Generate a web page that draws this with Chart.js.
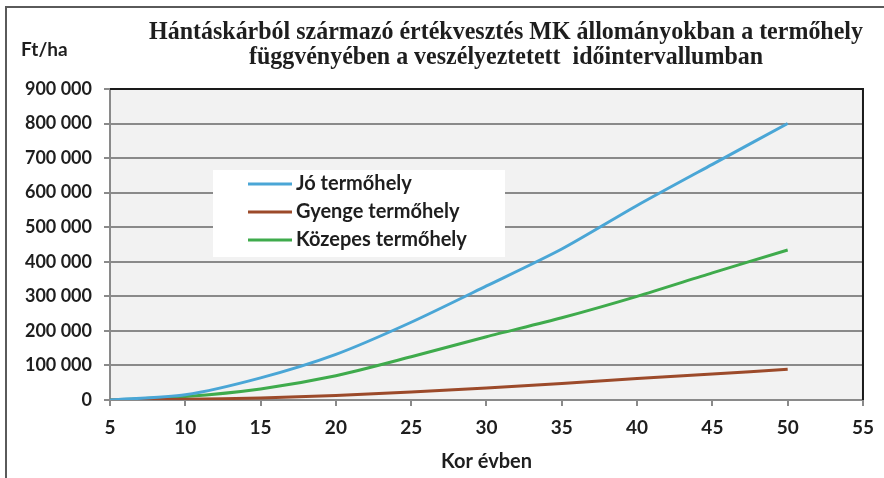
<!DOCTYPE html>
<html>
<head>
<meta charset="utf-8">
<script src="https://cdn.jsdelivr.net/npm/chart.js@4.4.1/dist/chart.umd.min.js"></script>
<style>
  html, body { margin: 0; padding: 0; background: #fff; }
  #wrap { width: 884px; height: 478px; }
</style>
</head>
<body>
<div id="wrap"><canvas id="chart" width="884" height="478"></canvas></div>
<script>
// values (Ft/ha by age)
const ages = [5, 10, 15, 20, 25, 30, 35, 40, 45, 50];
const joValues = [0, 15000, 64000, 132000, 225000, 330000, 437000, 563000, 682000, 800000];
const gyengeValues = [0, 2000, 6000, 13000, 23000, 35000, 48000, 62000, 75000, 89000];
const kozepesValues = [0, 10000, 32000, 70000, 125000, 183000, 238000, 300000, 368000, 434000];
const seriesNames = ["Jó termőhely", "Gyenge termőhely", "Közepes termőhely"];
const titleLines = [
    "Hántáskárból származó értékvesztés MK állományokban a termőhely",
    "függvényében a veszélyeztetett  időintervallumban"
];
const yUnit = "Ft/ha";
const xTitle = "Kor évben";

const labelFont = "Lato, 'Open Sans', sans-serif";
const colors = ["#4aa6d6", "#9c4a2a", "#3fab4c"];

function toPoints(values) {
    return ages.map((a, i) => ({ x: a, y: values[i] }));
}

function spaced(v) {
    return String(v).replace(/\B(?=(\d{3})+(?!\d))/g, " ");
}

// frame, plot background, border, title, legend
const decorations = {
    id: "decorations",
    beforeDraw(chart) {
        const ctx = chart.ctx;
        const a = chart.chartArea;
        ctx.save();
        ctx.fillStyle = "#f2f2f2";
        ctx.fillRect(a.left, a.top, a.right - a.left, a.bottom - a.top);
        ctx.restore();
    },
    afterDraw(chart) {
        const ctx = chart.ctx;
        const a = chart.chartArea;
        ctx.save();

        // outer frame (left + top only)
        ctx.strokeStyle = "#5a5a5a";
        ctx.lineWidth = 2;
        ctx.beginPath();
        ctx.moveTo(6, 478);
        ctx.lineTo(6, 7);
        ctx.lineTo(884, 7);
        ctx.stroke();

        // dark top / right border of plot
        ctx.strokeStyle = "#1a1a1a";
        ctx.lineWidth = 2;
        ctx.beginPath();
        ctx.moveTo(a.left, a.top);
        ctx.lineTo(a.right, a.top);
        ctx.lineTo(a.right, a.bottom);
        ctx.stroke();

        // title, squeezed to the reference width
        ctx.fillStyle = "#1e1e1e";
        ctx.font = "bold 25px 'Liberation Serif', 'Times New Roman', serif";
        ctx.textAlign = "center";
        ctx.textBaseline = "middle";
        const cx = 506;
        const w1 = ctx.measureText(titleLines[0]).width;
        const sx = 714 / w1;
        [33, 58].forEach((y, i) => {
            ctx.save();
            ctx.translate(cx, y);
            ctx.scale(sx, 1);
            ctx.fillText(titleLines[i], 0, 0);
            ctx.restore();
        });

        // unit label
        ctx.font = "bold 19px " + labelFont;
        ctx.textAlign = "left";
        ctx.fillText(yUnit, 21, 50);

        // legend box
        ctx.fillStyle = "#ffffff";
        ctx.fillRect(213, 170, 292, 87);
        const rows = [184, 212, 240];
        chart.data.datasets.forEach((ds, i) => {
            ctx.strokeStyle = ds.borderColor;
            ctx.lineWidth = 3;
            ctx.beginPath();
            ctx.moveTo(248, rows[i]);
            ctx.lineTo(292, rows[i]);
            ctx.stroke();
            ctx.fillStyle = "#1e1e1e";
            ctx.font = "bold 20px " + labelFont;
            ctx.textBaseline = "middle";
            ctx.fillText(ds.label, 296, rows[i]);
        });
        ctx.restore();
    }
};

const ctx = document.getElementById("chart").getContext("2d");
const chart = new Chart(ctx, {
    type: "line",
    data: {
        datasets: [
            { label: seriesNames[0], data: toPoints(joValues), borderColor: colors[0] },
            { label: seriesNames[1], data: toPoints(gyengeValues), borderColor: colors[1] },
            { label: seriesNames[2], data: toPoints(kozepesValues), borderColor: colors[2] }
        ].map(ds => Object.assign(ds, {
            borderWidth: 3,
            pointRadius: 0,
            fill: false,
            tension: 0.25
        }))
    },
    options: {
        responsive: false,
        animation: false,
        devicePixelRatio: 1,
        layout: { padding: { top: 89, right: 18, left: 0, bottom: 0 } },
        plugins: {
            legend: { display: false },
            tooltip: { enabled: false }
        },
        scales: {
            x: {
                type: "linear",
                min: 5,
                max: 55,
                afterFit(scale) { scale.height = 78; },
                ticks: {
                    stepSize: 5,
                    color: "#1e1e1e",
                    padding: 10,
                    font: { family: labelFont, size: 19, weight: "bold" }
                },
                grid: { drawOnChartArea: false, drawTicks: true, tickLength: 6, color: "#8a8a8a", lineWidth: 2 },
                border: { color: "#8a8a8a", width: 2 },
                title: {
                    display: true,
                    text: xTitle,
                    color: "#1e1e1e",
                    padding: { top: 4, bottom: 4 },
                    font: { family: labelFont, size: 20, weight: "bold" }
                }
            },
            y: {
                min: 0,
                max: 900000,
                afterFit(scale) { scale.width = 110; },
                ticks: {
                    stepSize: 100000,
                    color: "#1e1e1e",
                    padding: 12,
                    font: { family: labelFont, size: 18, weight: "bold" },
                    callback: v => spaced(v)
                },
                grid: { color: "#8a8a8a", lineWidth: 2, tickLength: 6 },
                border: { color: "#8a8a8a", width: 2 }
            }
        }
    },
    plugins: [decorations]
});
</script>
</body>
</html>
